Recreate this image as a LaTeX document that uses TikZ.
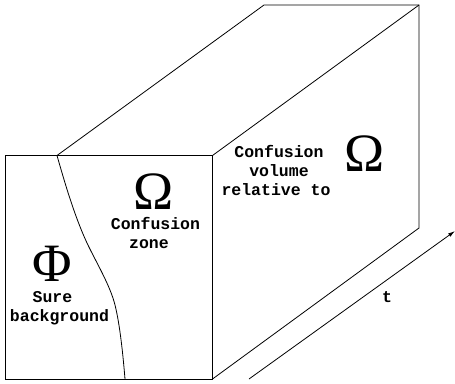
\documentclass[tikz,border=0pt]{standalone}
\usepackage{fontspec}
\usepackage{tikz}
\usetikzlibrary{arrows.meta,positioning}
\setmonofont{Liberation Mono}
\newfontfamily\symfont{Liberation Serif}

\begin{document}
\begin{tikzpicture}[
    x=1pt, y=-1pt,
    edge/.style={line width=0.8pt, black},
    arr/.style={-{Latex[length=7pt, width=4pt]}, line width=0.8pt},
    lab/.style={font=\fontsize{16.5}{19}\ttfamily\bfseries, inner sep=0pt, anchor=base, text height=9pt, text depth=2pt},
    sym/.style={font=\fontsize{54}{54}\symfont, inner sep=0pt, anchor=base, text height=36pt, text depth=0pt},
  ]
    \useasboundingbox (0,0) rectangle (455,383);

    % Corners of the block
    \coordinate (fnw) at (5.5,155.5);
    \coordinate (fne) at (212.5,155.5);
    \coordinate (fse) at (212.5,379);
    \coordinate (fsw) at (5.5,379);
    \coordinate (bnw) at (264,5);
    \coordinate (bne) at (419,5);
    \coordinate (bse) at (419,228);
    \coordinate (ctop) at (57,155.5);
    \coordinate (cbot) at (125,379);
    \coordinate (tfrom) at (249,379);
    \coordinate (tto) at (455,231);

    \draw[edge] (fnw) -- (fne) -- (fse) -- (fsw) -- cycle;
    \draw[edge] (ctop) -- (bnw) -- (bne) -- (bse) -- (fse);
    \draw[edge] (fne) -- (bne);

    % Border of the confusion zone
    \draw[edge] (ctop) .. controls (64,180) and (74,215) .. (87,243)
      .. controls (96,262) and (110,285) .. (115,305)
      .. controls (120,325) and (123,355) .. (cbot);

    \draw[arr] (tfrom) -- (tto);

    % Left face
    \node[sym] (omegaz) at (154,209) {Ω};
    \node[lab] (zone1) at (155.5,229) {Confusion};
    \node[lab] (zone2) at (149,248) {zone};
    \node[sym] (phi) at (52,281) {Φ};
    \node[lab] (sure1) at (52.5,302) {Sure};
    \node[lab] (sure2) at (59.5,321) {background};

    % Right face
    \node[lab] (vol1) at (279,157) {Confusion};
    \node[lab] (vol2) at (279,176) {volume};
    \node[lab] (vol3) at (276,195) {relative to};
    \node[sym] (omegav) at (365,171) {Ω};
    \node[lab] (tlab) at (387,302) {t};
  \end{tikzpicture}
\end{document}
